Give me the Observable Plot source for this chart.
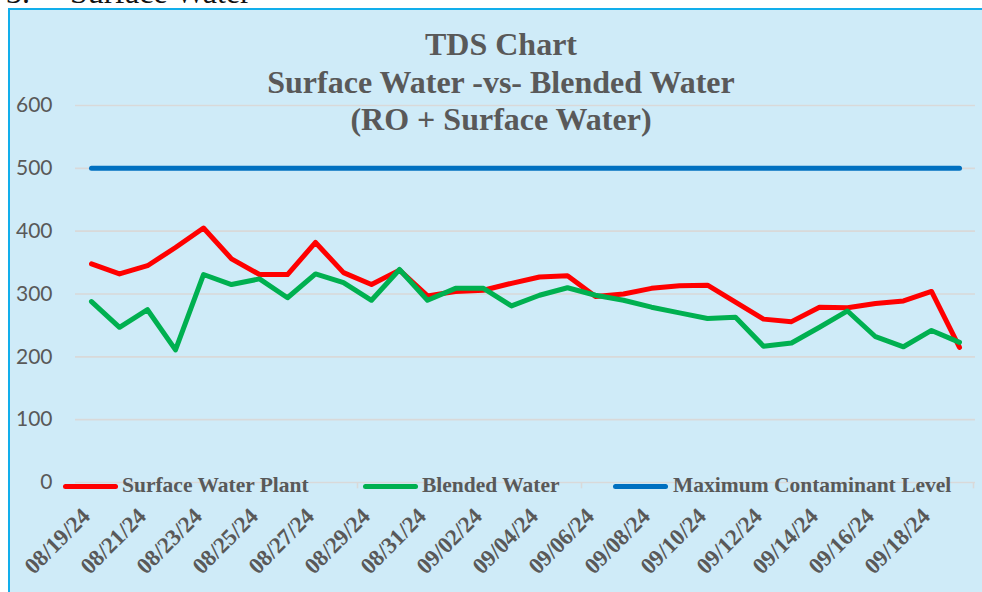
<!DOCTYPE html>
<html><head><meta charset="utf-8">
<script src="https://cdn.jsdelivr.net/npm/d3@7"></script>
<script src="https://cdn.jsdelivr.net/npm/@observablehq/plot@0.6"></script>
<style>
html,body{margin:0;padding:0;background:#fff;}
body{width:982px;height:592px;overflow:hidden;position:relative;}
#box{position:absolute;left:8px;top:8px;width:1000px;height:600px;background:#CFEBF8;border-left:2.5px solid #12AEEB;border-top:2.5px solid #12AEEB;box-sizing:border-box;}
#chart{position:absolute;left:0;top:0;}
.hdr{position:absolute;top:-24px;font:32px/32px "Liberation Serif";color:#111;white-space:nowrap;}
#title{position:absolute;left:0;width:1002px;top:26px;text-align:center;font:bold 32px/37.5px "Liberation Serif";color:#595959;}
.sw{position:absolute;top:483.5px;width:55px;height:5px;border-radius:3px;}
.lt{position:absolute;top:475px;font:bold 21.5px/21px "Liberation Serif";color:#595959;white-space:nowrap;}
</style></head>
<body>
<div class="hdr" style="left:6px">3.</div>
<div class="hdr" style="left:70px">Surface Water</div>
<div id="box"></div>
<div id="chart"></div>
<div id="title"></div>
<div id="legend"></div>
<script>
const titleLines = ["TDS Chart", "Surface Water -vs- Blended Water", "(RO + Surface Water)"];
const dates = ["08/19/24","08/20/24","08/21/24","08/22/24","08/23/24","08/24/24","08/25/24","08/26/24","08/27/24","08/28/24","08/29/24","08/30/24","08/31/24",
  "09/01/24","09/02/24","09/03/24","09/04/24","09/05/24","09/06/24","09/07/24","09/08/24","09/09/24","09/10/24","09/11/24","09/12/24","09/13/24","09/14/24","09/15/24","09/16/24","09/17/24","09/18/24","09/19/24"];
const surfaceWaterPlant = [348,332,345,374,405,356,331,331,382,334,315,338,297,304,306,317,327,329,296,300,309,313,314,287,260,256,279,278,285,289,304,215];
const blendedWater = [288,247,275,211,331,315,324,294,332,318,290,339,290,309,309,281,298,310,298,290,279,270,261,263,217,222,247,273,232,216,242,223];
const maxContaminantLevel = [500,500,500,500,500,500,500,500,500,500,500,500,500,500,500,500,500,500,500,500,500,500,500,500,500,500,500,500,500,500,500,500];
const yTicks = [0,100,200,300,400,500,600];
const xTickLabels = ["08/19/24","08/21/24","08/23/24","08/25/24","08/27/24","08/29/24","08/31/24","09/02/24","09/04/24","09/06/24","09/08/24","09/10/24","09/12/24","09/14/24","09/16/24","09/18/24"];
const seriesNames = ["Surface Water Plant","Blended Water","Maximum Contaminant Level"];
const seriesColors = ["#FF0000","#00B050","#0070C0"];
const axisTickDates = ["08/21/24","08/29/24","09/06/24","09/14/24"];
const axisEndDate = ["09/19/24"];

const rows = dates.map((d,i)=>({date:d, sw:surfaceWaterPlant[i], bw:blendedWater[i], mcl:maxContaminantLevel[i]}));
const lineOpts = {x:"date", strokeWidth:5, strokeLinejoin:"round", strokeLinecap:"round"};

const chart = Plot.plot({
  width:982, height:592,
  marginLeft:75, marginRight:7, marginTop:105, marginBottom:110,
  style:{background:"transparent", overflow:"visible"},
  x:{type:"point", domain:dates, padding:0.5, axis:null},
  y:{domain:[0,600], axis:null},
  marks:[
    Plot.gridY(yTicks, {stroke:"#D9D9D9", strokeOpacity:1, strokeWidth:1.6}),
    Plot.axisY(yTicks, {tickSize:0, tickPadding:23, fontSize:21, fontFamily:"Lato", fill:"#595959", label:null}),
    Plot.ruleX(axisTickDates, {y1:0, y2:-10, dx:-14, stroke:"#D9D9D9", strokeWidth:1.6}),
    Plot.ruleX(axisEndDate, {y1:0, y2:-10, dx:14, stroke:"#D9D9D9", strokeWidth:1.6}),
    Plot.line(rows, {...lineOpts, y:"sw", stroke:seriesColors[0]}),
    Plot.line(rows, {...lineOpts, y:"bw", stroke:seriesColors[1]}),
    Plot.line(rows, {...lineOpts, y:"mcl", stroke:seriesColors[2]}),
    Plot.text(xTickLabels, {x:d=>d, frameAnchor:"bottom", rotate:-45, textAnchor:"end", dx:0, dy:35,
      fontSize:23, fontWeight:"bold", fontFamily:"Liberation Serif", fill:"#595959"})
  ]
});
document.getElementById("chart").appendChild(chart);

const t = document.getElementById("title");
titleLines.forEach(s=>{const d=document.createElement("div"); d.textContent=s; t.appendChild(d);});

const legendLayout = [{sw:63, tx:122},{sw:363, tx:422},{sw:613, tx:673}];
const lg = document.getElementById("legend");
seriesNames.forEach((name,i)=>{
  const s=document.createElement("div"); s.className="sw"; s.style.left=legendLayout[i].sw+"px"; s.style.background=seriesColors[i]; lg.appendChild(s);
  const tx=document.createElement("div"); tx.className="lt"; tx.style.left=legendLayout[i].tx+"px"; tx.textContent=name; lg.appendChild(tx);
});
</script>
</body></html>
